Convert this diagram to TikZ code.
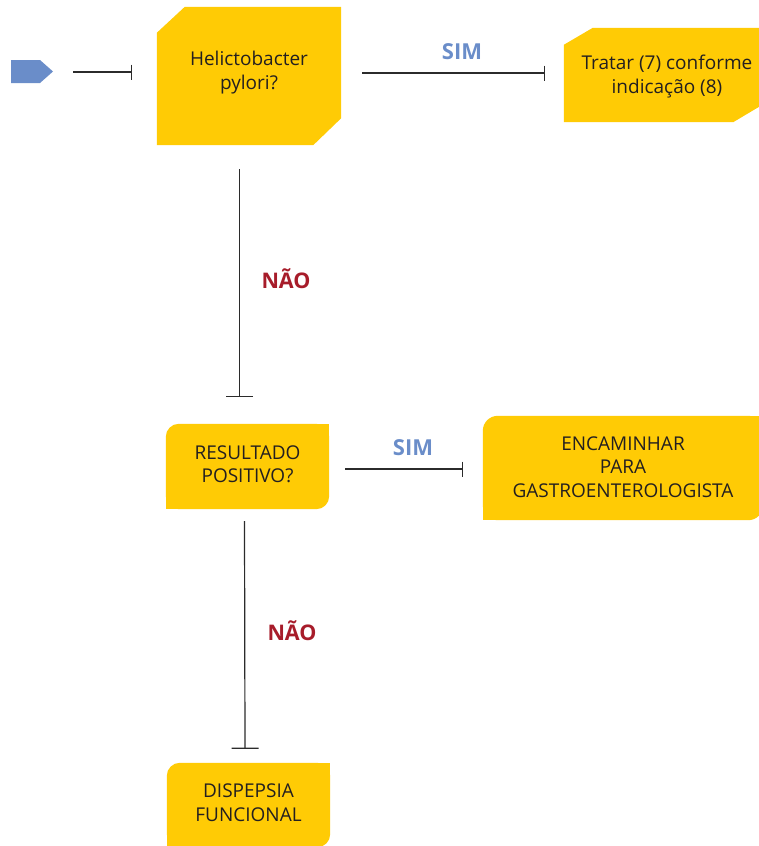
\documentclass[tikz,border=0pt]{standalone}
\usepackage{fontspec}
\setmainfont{Open Sans}
\usetikzlibrary{arrows.meta,backgrounds,calc}

\definecolor{boxyellow}{HTML}{FFCB05}
\definecolor{startblue}{HTML}{6A8DC9}
\definecolor{simblue}{HTML}{6A8DC9}
\definecolor{naored}{HTML}{A71C2A}
\definecolor{linegray}{HTML}{2B2B2B}
\definecolor{textdark}{HTML}{231F20}

\begin{document}
\begin{tikzpicture}[x=1pt,y=-1pt,
  box/.style={rectangle, inner sep=0pt, align=center, text=textdark,
    font=\fontsize{19}{23.5}\selectfont},
  boxfill/.style={fill=boxyellow},
  flowh/.style={draw=linegray, line width=1.2pt,
    -{Bar[width=15pt,line width=1.2pt]}},
  flowv/.style={draw=linegray, line width=1.2pt,
    -{Bar[width=27pt,line width=1.2pt]}},
  simlabel/.style={anchor=base, text=simblue, font=\fontsize{22}{26}\bfseries},
  naolabel/.style={anchor=base, text=naored, font=\fontsize{21.5}{25}\bfseries}
]
\path[use as bounding box] (0,0) rectangle (759,846);

% start marker: a pentagon pointing right
\fill[startblue] (11,60) -- (40,60) -- (53,71.5) -- (40,83) -- (11,83) -- cycle;
\coordinate (start) at (53,71.5);

% boxes (text blocks; the yellow shapes are filled behind them)
\node[box, minimum width=184pt, minimum height=131pt] (hp) at (249,72.5)
  {Helictobacter\\pylori?};
\node[box, minimum width=206pt, minimum height=94pt] (trat) at (667,76.5)
  {Tratar (7) conforme\\indicação (8)};
\node[box, minimum width=163pt, minimum height=85pt] (res) at (247.5,464)
  {RESULTADO\\POSITIVO?};
\node[box, minimum width=280pt, minimum height=104pt] (enc) at (623,467)
  {ENCAMINHAR\\PARA\\GASTROENTEROLOGISTA};
\node[box, minimum width=163pt, minimum height=84pt] (disp) at (248.5,802.5)
  {DISPEPSIA\\FUNCIONAL};

% box backgrounds: chamfered and half-rounded shapes
\begin{scope}[on background layer]
  \fill[boxfill] ($(hp.north west)+(0,26)$) -- ($(hp.north west)+(28,0)$)
    -- (hp.north east) -- ($(hp.south east)+(0,-20)$)
    -- ($(hp.south east)+(-28,7)$) -- ($(hp.south west)+(0,7)$) -- cycle;
  \fill[boxfill] ($(trat.north west)+(0,15.5)$) -- ($(trat.north west)+(29,-1.5)$)
    -- ($(trat.north east)+(0,-1.5)$) -- ($(trat.south east)+(0,-23.5)$)
    -- ($(trat.south east)+(-37,-1.5)$) -- ($(trat.south west)+(0,-1.5)$) -- cycle;
  \foreach \b/\r/\dy in {res/13/2.5, enc/15/1, disp/13/2.5} {
    \coordinate (sw) at ($(\b.south west)+(0,\dy)$);
    \coordinate (ne) at ($(\b.north east)+(0,\dy)$);
    \fill[boxfill, rounded corners=\r pt] (sw) rectangle (ne);
    \fill[boxfill] (sw) rectangle ($(sw|-ne)+(\r,\r)$);
    \fill[boxfill] (ne) rectangle ($(ne|-sw)+(-\r,-\r)$);
  }
\end{scope}

% connectors
\draw[flowh] ($(start)+(20,0.5)$) -- ($(hp.west)+(-25,-0.5)$);
\draw[flowh] ($(hp.east)+(21,0.5)$) -- ($(trat.west)+(-19,-3.5)$);
\draw[flowv] ($(hp.south)+(-9.5,31)$) -- ($(res.north)+(-8,-24.5)$);
\draw[flowh] ($(res.east)+(16,5)$) -- ($(enc.west)+(-20,2)$);
\draw[flowv] ($(res.south)+(-3,14.5)$) -- ($(disp.north)+(-3.5,-11.5)$);

% branch labels
\node[simlabel] (sim1) at (462,59) {SIM};
\node[simlabel] (sim2) at (413,455) {SIM};
\node[naolabel] (nao1) at (286,288) {NÃO};
\node[naolabel] (nao2) at (292,640) {NÃO};
\end{tikzpicture}
\end{document}
